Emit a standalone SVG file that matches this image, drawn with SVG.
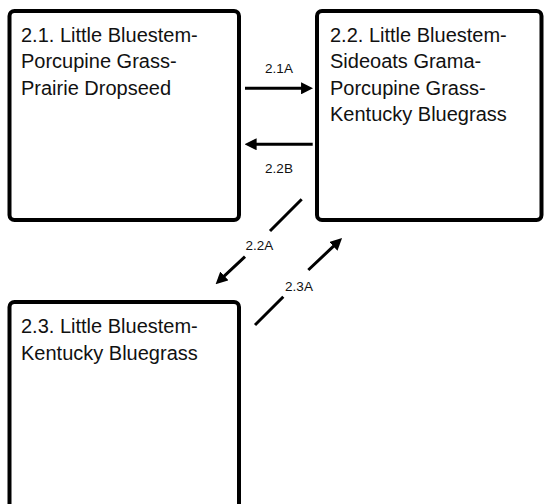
<svg xmlns="http://www.w3.org/2000/svg" width="545" height="504" viewBox="0 0 545 504">
<style>
.box{fill:#fff;stroke:#000;stroke-width:4}
.t{font-family:"Liberation Sans",Arial,Helvetica,sans-serif;font-size:20px;fill:#111}
.lbl{font-family:"Liberation Sans",Arial,Helvetica,sans-serif;font-size:13.5px;fill:#111;text-anchor:middle}
.c{fill:none;stroke:#000;stroke-width:3}
</style>
<defs>
<marker id="ah" markerUnits="userSpaceOnUse" markerWidth="12" markerHeight="12" viewBox="0 0 11 11" refX="7" refY="5.5" orient="auto">
<path d="M0,0 L11,5.5 L0,11 z" fill="#000"/>
</marker>
</defs>
<rect width="545" height="504" fill="#fff"/>
<g id="node-2-1">
<rect class="box" x="9.5" y="11" width="229.5" height="209" rx="5"/>
<text class="t" x="21" y="41.5">2.1. Little Bluestem-</text>
<text class="t" x="21" y="68">Porcupine Grass-</text>
<text class="t" x="21" y="94.5">Prairie Dropseed</text>
</g>
<g id="node-2-2">
<rect class="box" x="317" y="11" width="224.5" height="209" rx="5"/>
<text class="t" x="330" y="41.5">2.2. Little Bluestem-</text>
<text class="t" x="330" y="68">Sideoats Grama-</text>
<text class="t" x="330" y="94.5">Porcupine Grass-</text>
<text class="t" x="330" y="121">Kentucky Bluegrass</text>
</g>
<g id="node-2-3">
<rect class="box" x="9.5" y="302" width="229.5" height="260" rx="5"/>
<text class="t" x="21" y="333">2.3. Little Bluestem-</text>
<text class="t" x="21" y="359.5">Kentucky Bluegrass</text>
</g>
<g id="connectors">
<g id="e-2-1A">
<path class="c" d="M245,88.3 L308.7,88.3" marker-end="url(#ah)"/>
<text class="lbl" x="279" y="72.7">2.1A</text>
</g>
<g id="e-2-2B">
<path class="c" d="M312.7,144.3 L249,144.3" marker-end="url(#ah)"/>
<text class="lbl" x="279" y="173.3">2.2B</text>
</g>
<g id="e-2-2A">
<path class="c" d="M301.7,199.3 L270,231 M245,256.7 L218.8,281.2" marker-end="url(#ah)"/>
<text class="lbl" x="259.3" y="250">2.2A</text>
</g>
<g id="e-2-3A">
<path class="c" d="M255,325 L283.3,296.7 M308.3,270 L338.9,241.1" marker-end="url(#ah)"/>
<text class="lbl" x="299" y="290.5">2.3A</text>
</g>
</g>
</svg>
